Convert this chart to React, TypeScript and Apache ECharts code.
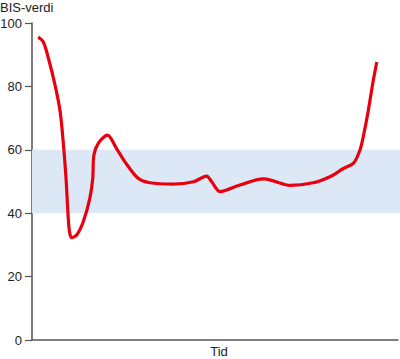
import React, { useEffect, useRef } from "react";
import * as echarts from "echarts";

const timeValues: number[] = [1.7, 3.1, 4.5, 6.3, 7.7, 8.6, 9.3, 9.8, 10.2, 10.8, 12.2, 14.0, 15.8, 16.6, 16.9, 18.1, 20.6, 23.1, 25.4, 29.0, 32.2, 38.6, 44.1, 47.7, 49.1, 51.4, 56.8, 63.2, 65.9, 70.5, 76.8, 81.4, 85.1, 87.8, 89.6, 90.5, 91.9, 93.1, 94.2];
const bisValues: number[] = [95.6, 94.0, 88.8, 80.4, 72.0, 61.5, 51.0, 40.5, 34.5, 32.3, 33.1, 37.3, 44.7, 51.0, 58.3, 62.0, 64.6, 60.4, 56.2, 51.0, 49.6, 49.2, 49.9, 51.7, 49.9, 46.8, 48.9, 50.8, 50.2, 48.8, 49.6, 51.5, 54.1, 55.7, 59.9, 64.1, 72.5, 80.9, 87.7];
const targetBand: number[] = [40, 60];
const yTicks: number[] = [0, 20, 40, 60, 80, 100];
const yAxisTitle = "BIS-verdi";
const xAxisTitle = "Tid";

export default function App() {
  const ref = useRef<HTMLDivElement>(null);
  useEffect(() => {
    document.body.style.margin = "0";
    const chart = echarts.init(ref.current!, null, { renderer: "svg" });
    const data = timeValues.map((t, i) => [t, bisValues[i]]);
    const font = "Liberation Sans, Arial, sans-serif";
    chart.setOption({
      animation: false,
      textStyle: { fontFamily: font },
      grid: { left: 32, right: 2, top: 23, bottom: 19, outerBoundsMode: "none", containLabel: false },
      graphic: [
        {
          type: "text",
          left: 0,
          top: 1,
          style: { text: yAxisTitle, fontSize: 13, fill: "#222", fontFamily: font },
        },
        {
          type: "text",
          x: 219,
          y: 345,
          style: { text: xAxisTitle, fontSize: 13, fill: "#222", fontFamily: font, textAlign: "center", textVerticalAlign: "top" },
        },
      ],
      xAxis: {
        type: "value",
        min: 0,
        max: 100,
        axisLine: { show: true, lineStyle: { color: "#555", width: 1.5 } },
        axisTick: { show: false },
        axisLabel: { show: false },
        splitLine: { show: false },
      },
      yAxis: {
        type: "value",
        min: yTicks[0],
        max: yTicks[yTicks.length - 1],
        interval: 20,
        axisLine: { show: true, lineStyle: { color: "#555", width: 1.5 } },
        axisTick: { show: true, length: 7, lineStyle: { color: "#555", width: 1.2 } },
        axisLabel: { fontSize: 13, color: "#222", margin: 10 },
        splitLine: { show: false },
      },
      series: [
        {
          type: "line",
          data,
          smooth: 0.3,
          symbol: "none",
          lineStyle: { color: "#e8000f", width: 3.2 },
          z: 3,
          markArea: {
            silent: true,
            itemStyle: { color: "#dce8f6" },
            data: [[{ yAxis: targetBand[0], x: 32 }, { yAxis: targetBand[1], x: 400 }]],
          },
        },
      ],
    });
    return () => chart.dispose();
  }, []);
  return <div ref={ref} style={{ width: 400, height: 359 }} />;
}
